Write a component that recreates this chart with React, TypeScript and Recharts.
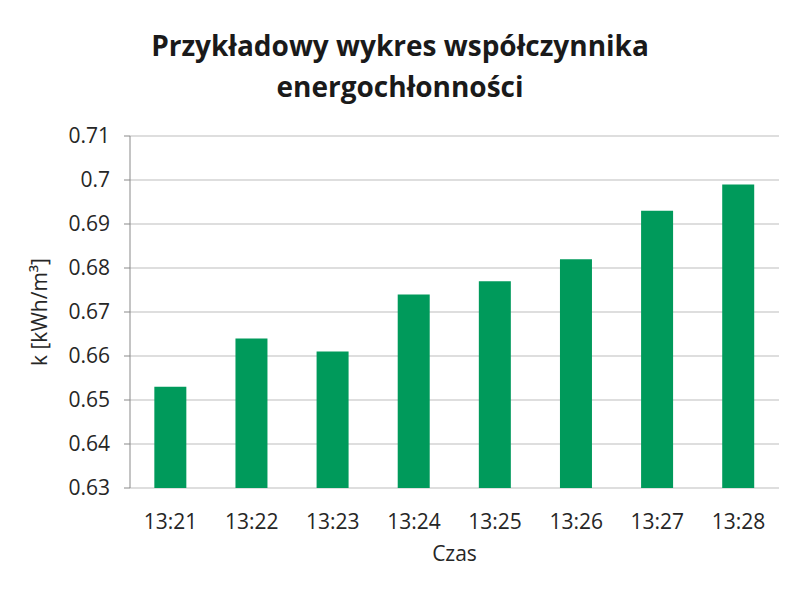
import React from 'react';
import { BarChart, Bar, XAxis, YAxis, CartesianGrid } from 'recharts';

const categories = ['13:21', '13:22', '13:23', '13:24', '13:25', '13:26', '13:27', '13:28'];
const kValues = [0.653, 0.664, 0.661, 0.674, 0.677, 0.682, 0.693, 0.699];
const yTicks = [0.63, 0.64, 0.65, 0.66, 0.67, 0.68, 0.69, 0.7, 0.71];
const boundaryTicks = [0, 1, 2, 3, 4, 5, 6, 7, 8];

const data = categories.map((czas, i) => ({ czas, k: kValues[i] }));

const FONT = '"Open Sans", "DejaVu Sans", sans-serif';
const TEXT = '#262626';
const AXIS = '#898989';
const GRID = '#bdbdbd';

const EmptyTick = () => <g />;

export default function App() {
  return (
    <div style={{ position: 'absolute', left: 0, top: 0, width: 800, height: 600, background: '#fff', fontFamily: FONT }}>
      <div style={{
        position: 'absolute', left: 0, top: 25, width: 800, textAlign: 'center',
        fontSize: 28, fontWeight: 700, lineHeight: '41px', color: '#1a1a1a'
      }}>
        Przykładowy wykres współczynnika<br />energochłonności
      </div>
      <BarChart
        width={800}
        height={600}
        data={data}
        margin={{ top: 136, right: 21, bottom: 32, left: 0 }}
        barCategoryGap="30%"
      >
        <CartesianGrid vertical={false} stroke={GRID} />
        <XAxis
          xAxisId="bounds"
          type="number"
          domain={[0, 8]}
          ticks={boundaryTicks}
          height={0}
          tick={EmptyTick}
          tickSize={6}
          axisLine={{ stroke: AXIS }}
          tickLine={{ stroke: AXIS }}
          allowDataOverflow
        />
        <XAxis
          xAxisId="cat"
          dataKey="czas"
          height={80}
          axisLine={false}
          tickLine={false}
          tickMargin={20}
          tick={{ fontSize: 21, fill: TEXT, fontFamily: FONT }}
          label={{ value: 'Czas', position: 'insideBottom', offset: 7, style: { fontSize: 21, fill: TEXT, fontFamily: FONT } }}
        />
        <YAxis
          width={130}
          domain={[0.63, 0.71]}
          ticks={yTicks}
          interval={0}
          tickSize={6}
          tickMargin={14}
          axisLine={{ stroke: AXIS }}
          tickLine={{ stroke: AXIS }}
          tick={{ fontSize: 21, fill: TEXT, fontFamily: FONT }}
          allowDataOverflow
          label={{
            value: 'k [kWh/m³]', angle: -90, position: 'insideLeft', offset: 40,
            style: { fontSize: 21, fill: TEXT, fontFamily: FONT, textAnchor: 'middle' }
          }}
        />
        <Bar xAxisId="cat" dataKey="k" fill="#009a5b" isAnimationActive={false} />
      </BarChart>
    </div>
  );
}
